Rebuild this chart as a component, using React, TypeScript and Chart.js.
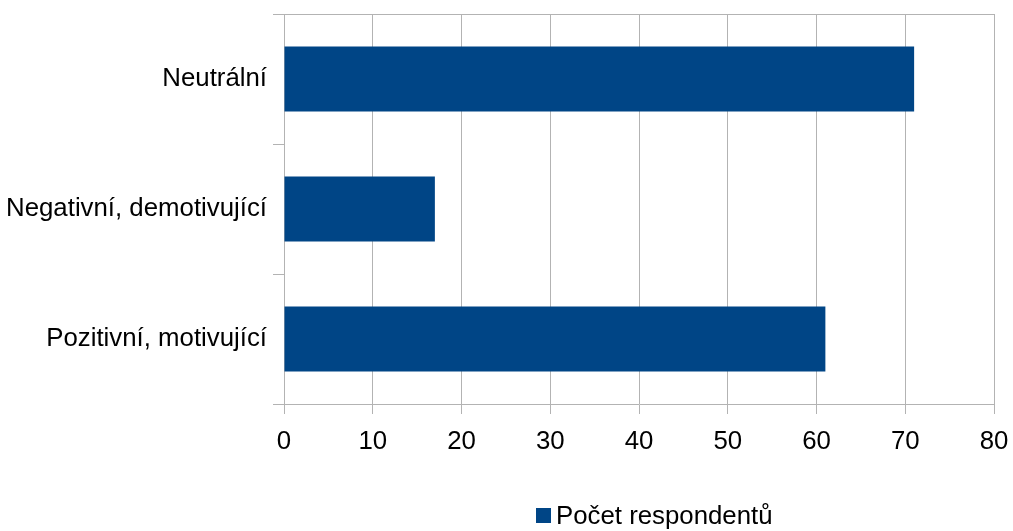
import React, { useEffect, useRef } from "react";
import { Chart, registerables } from "chart.js";

Chart.register(...registerables);

const categories = ["Neutrální", "Negativní, demotivující", "Pozitivní, motivující"];
const respondents = [71, 17, 61];
const seriesLabel = "Počet respondentů";
const xMin = 0;
const xMax = 80;
const xStep = 10;

const BAR_COLOR = "#004586";
const GRID_COLOR = "#b3b3b3";
const FONT_FAMILY = "'Liberation Sans', Arial, sans-serif";
const FONT_SIZE = 25.8;

// Drop the extra room scales ask for around their outer labels,
// so the layout padding alone sets the plot edges.
const clearScalePadding = (scale: any) => {
  scale.paddingLeft = 0;
  scale.paddingRight = 0;
  scale.paddingTop = 0;
  scale.paddingBottom = 0;
};

export default function App() {
  const canvasRef = useRef<HTMLCanvasElement | null>(null);

  useEffect(() => {
    document.body.style.margin = "0";
    const canvas = canvasRef.current;
    if (!canvas) return;
    const chart = new Chart(canvas, {
      type: "bar",
      data: {
        labels: categories,
        datasets: [
          {
            label: seriesLabel,
            data: respondents,
            backgroundColor: BAR_COLOR,
            borderWidth: 0,
            barPercentage: 0.5,
            categoryPercentage: 1,
          },
        ],
      },
      options: {
        indexAxis: "y",
        responsive: false,
        animation: false,
        layout: { padding: { top: 14, right: 19, left: 0, bottom: 0 } },
        plugins: {
          legend: { display: false },
          tooltip: { enabled: false },
        },
        scales: {
          x: {
            type: "linear",
            position: "bottom",
            min: xMin,
            max: xMax,
            ticks: {
              stepSize: xStep,
              color: "#000",
              padding: 12,
              font: { family: FONT_FAMILY, size: FONT_SIZE },
            },
            grid: { color: GRID_COLOR, tickLength: 10 },
            border: { color: GRID_COLOR },
            afterFit: (scale: any) => {
              clearScalePadding(scale);
              scale.height = 127;
            },
          },
          x2: {
            type: "linear",
            position: "top",
            min: xMin,
            max: xMax,
            ticks: { display: false },
            grid: { display: false, drawTicks: false },
            border: { display: true, color: GRID_COLOR },
            afterFit: clearScalePadding,
          },
          y: {
            type: "category",
            ticks: {
              color: "#000",
              padding: 6,
              font: { family: FONT_FAMILY, size: FONT_SIZE },
            },
            grid: {
              offset: true,
              drawOnChartArea: false,
              color: GRID_COLOR,
              tickLength: 11,
            },
            border: { color: GRID_COLOR },
            afterFit: (scale: any) => {
              clearScalePadding(scale);
              scale.width = 284;
            },
          },
        },
      },
    });
    return () => chart.destroy();
  }, []);

  return (
    <div style={{ position: "fixed", left: 0, top: 0, width: 1013, height: 531, background: "#fff" }}>
      <canvas ref={canvasRef} width={1013} height={531} style={{ display: "block" }} />
      <span
        style={{ position: "absolute", left: 536, top: 508, width: 15, height: 15, background: BAR_COLOR }}
      />
      <span
        style={{
          position: "absolute",
          left: 556,
          top: 503,
          fontFamily: FONT_FAMILY,
          fontSize: FONT_SIZE,
          lineHeight: 1,
          color: "#000",
          whiteSpace: "nowrap",
        }}
      >
        {seriesLabel}
      </span>
    </div>
  );
}
